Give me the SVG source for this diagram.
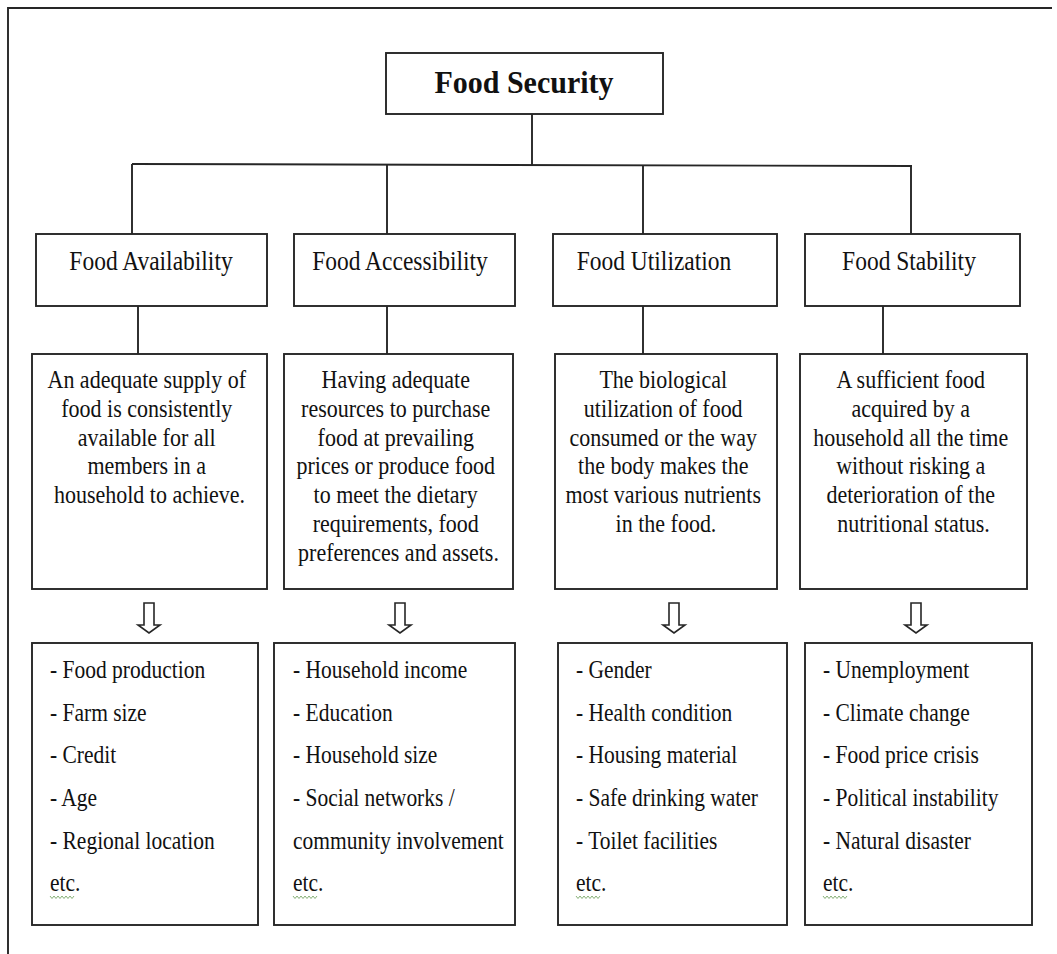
<svg xmlns="http://www.w3.org/2000/svg" width="1057" height="954" viewBox="0 0 1057 954">
<style>
.box{fill:#fff;stroke:#262626;stroke-width:1.9}
.ln{fill:none;stroke:#262626;stroke-width:1.9}
.arr{fill:#fff;stroke:#262626;stroke-width:1.6;stroke-linejoin:miter}
.t{font-family:"Liberation Serif","Times New Roman",serif;fill:#111}
.title{font-size:30px;font-weight:bold;text-anchor:middle}
.head{font-size:23.5px;text-anchor:middle}
.desc{font-size:22px;text-anchor:middle}
.list{font-size:21.5px}
.sq{fill:none;stroke:#7aa86a;stroke-width:0.9}
</style>
<defs>
<path id="harrow" d="M-5,0 H5 V22 H11 L0,30 L-11,22 H-5 Z"/>
</defs>
<rect width="1057" height="954" fill="#fff"/>
<path class="ln" d="M8,954 V8 H1052"/>

<g id="connectors">
<path class="ln" d="M532,114 V165"/>
<path class="ln" d="M132,164 L912,166"/>
<path class="ln" d="M132,164 V234"/>
<path class="ln" d="M387,165 V234"/>
<path class="ln" d="M643,165 V234"/>
<path class="ln" d="M911,166 V234"/>
<path class="ln" d="M138,306 V354"/>
<path class="ln" d="M387,306 V354"/>
<path class="ln" d="M643,306 V354"/>
<path class="ln" d="M883,306 V354"/>
<use href="#harrow" class="arr" x="149" y="603"/>
<use href="#harrow" class="arr" x="400" y="603"/>
<use href="#harrow" class="arr" x="674" y="603"/>
<use href="#harrow" class="arr" x="916" y="603"/>
</g>

<g id="food-security">
<rect class="box" x="386" y="53" width="277" height="61"/>
<g transform="translate(0,93) scale(1,1.05)"><text class="t title" x="524" y="0">Food Security</text></g>
</g>

<g id="food-availability">
<rect class="box" x="36" y="234" width="231" height="72"/>
<g transform="translate(0,270) scale(1,1.12)"><text class="t head" x="151" y="0">Food Availability</text></g>
</g>
<g id="food-accessibility">
<rect class="box" x="294" y="234" width="221" height="72"/>
<g transform="translate(0,270) scale(1,1.12)"><text class="t head" x="400" y="0">Food Accessibility</text></g>
</g>
<g id="food-utilization">
<rect class="box" x="553" y="234" width="224" height="72"/>
<g transform="translate(0,270) scale(1,1.12)"><text class="t head" x="654" y="0">Food Utilization</text></g>
</g>
<g id="food-stability">
<rect class="box" x="805" y="234" width="215" height="72"/>
<g transform="translate(0,270) scale(1,1.12)"><text class="t head" x="909" y="0">Food Stability</text></g>
</g>

<g id="desc-availability">
<rect class="box" x="32" y="354" width="235" height="235"/>
<g transform="translate(0,388) scale(1,1.14)">
<text class="t desc" x="149.5" y="0">
<tspan x="149.5" dy="0">An adequate supply of</tspan>
<tspan x="149.5" dy="25.26">food is consistently</tspan>
<tspan x="149.5" dy="25.26">available for all</tspan>
<tspan x="149.5" dy="25.26">members in a</tspan>
<tspan x="149.5" dy="25.26">household to achieve.</tspan>
</text>
</g>
</g>
<g id="desc-accessibility">
<rect class="box" x="284" y="354" width="229" height="235"/>
<g transform="translate(0,388) scale(1,1.14)">
<text class="t desc" x="398.5" y="0">
<tspan x="398.5" dy="0">Having adequate</tspan>
<tspan x="398.5" dy="25.26">resources to purchase</tspan>
<tspan x="398.5" dy="25.26">food at prevailing</tspan>
<tspan x="398.5" dy="25.26">prices or produce food</tspan>
<tspan x="398.5" dy="25.26">to meet the dietary</tspan>
<tspan x="398.5" dy="25.26">requirements, food</tspan>
<tspan x="398.5" dy="25.26">preferences and assets.</tspan>
</text>
</g>
</g>
<g id="desc-utilization">
<rect class="box" x="555" y="354" width="222" height="235"/>
<g transform="translate(0,388) scale(1,1.14)">
<text class="t desc" x="666" y="0">
<tspan x="666" dy="0">The biological</tspan>
<tspan x="666" dy="25.26">utilization of food</tspan>
<tspan x="666" dy="25.26">consumed or the way</tspan>
<tspan x="666" dy="25.26">the body makes the</tspan>
<tspan x="666" dy="25.26">most various nutrients</tspan>
<tspan x="666" dy="25.26">in the food.</tspan>
</text>
</g>
</g>
<g id="desc-stability">
<rect class="box" x="800" y="354" width="227" height="235"/>
<g transform="translate(0,388) scale(1,1.14)">
<text class="t desc" x="913.5" y="0">
<tspan x="913.5" dy="0">A sufficient food</tspan>
<tspan x="913.5" dy="25.26">acquired by a</tspan>
<tspan x="913.5" dy="25.26">household all the time</tspan>
<tspan x="913.5" dy="25.26">without risking a</tspan>
<tspan x="913.5" dy="25.26">deterioration of the</tspan>
<tspan x="913.5" dy="25.26">nutritional status.</tspan>
</text>
</g>
</g>

<g id="factors-availability">
<rect class="box" x="32" y="643" width="226" height="282"/>
<g transform="translate(0,678) scale(1,1.2)">
<text class="t list" x="50" y="0">
<tspan x="50" dy="0">- Food production</tspan>
<tspan x="50" dy="35.58">- Farm size</tspan>
<tspan x="50" dy="35.58">- Credit</tspan>
<tspan x="50" dy="35.58">- Age</tspan>
<tspan x="50" dy="35.58">- Regional location</tspan>
<tspan x="50" dy="35.58">etc.</tspan>
</text>
</g>
<path class="sq" d="M50,896 l2,2.5 l2,-2.5 l2,2.5 l2,-2.5 l2,2.5 l2,-2.5 l2,2.5 l2,-2.5 l2,2.5 l2,-2.5 l2,2.5 l2,-2.5"/>
</g>
<g id="factors-accessibility">
<rect class="box" x="274" y="643" width="241" height="282"/>
<g transform="translate(0,678) scale(1,1.2)">
<text class="t list" x="293" y="0">
<tspan x="293" dy="0">- Household income</tspan>
<tspan x="293" dy="35.58">- Education</tspan>
<tspan x="293" dy="35.58">- Household size</tspan>
<tspan x="293" dy="35.58">- Social networks /</tspan>
<tspan x="293" dy="35.58">community involvement</tspan>
<tspan x="293" dy="35.58">etc.</tspan>
</text>
</g>
<path class="sq" d="M293,896 l2,2.5 l2,-2.5 l2,2.5 l2,-2.5 l2,2.5 l2,-2.5 l2,2.5 l2,-2.5 l2,2.5 l2,-2.5 l2,2.5 l2,-2.5"/>
</g>
<g id="factors-utilization">
<rect class="box" x="558" y="643" width="229" height="282"/>
<g transform="translate(0,678) scale(1,1.2)">
<text class="t list" x="576" y="0">
<tspan x="576" dy="0">- Gender</tspan>
<tspan x="576" dy="35.58">- Health condition</tspan>
<tspan x="576" dy="35.58">- Housing material</tspan>
<tspan x="576" dy="35.58">- Safe drinking water</tspan>
<tspan x="576" dy="35.58">- Toilet facilities</tspan>
<tspan x="576" dy="35.58">etc.</tspan>
</text>
</g>
<path class="sq" d="M576,896 l2,2.5 l2,-2.5 l2,2.5 l2,-2.5 l2,2.5 l2,-2.5 l2,2.5 l2,-2.5 l2,2.5 l2,-2.5 l2,2.5 l2,-2.5"/>
</g>
<g id="factors-stability">
<rect class="box" x="805" y="643" width="227" height="282"/>
<g transform="translate(0,678) scale(1,1.2)">
<text class="t list" x="823" y="0">
<tspan x="823" dy="0">- Unemployment</tspan>
<tspan x="823" dy="35.58">- Climate change</tspan>
<tspan x="823" dy="35.58">- Food price crisis</tspan>
<tspan x="823" dy="35.58">- Political instability</tspan>
<tspan x="823" dy="35.58">- Natural disaster</tspan>
<tspan x="823" dy="35.58">etc.</tspan>
</text>
</g>
<path class="sq" d="M823,896 l2,2.5 l2,-2.5 l2,2.5 l2,-2.5 l2,2.5 l2,-2.5 l2,2.5 l2,-2.5 l2,2.5 l2,-2.5 l2,2.5 l2,-2.5"/>
</g>
</svg>
